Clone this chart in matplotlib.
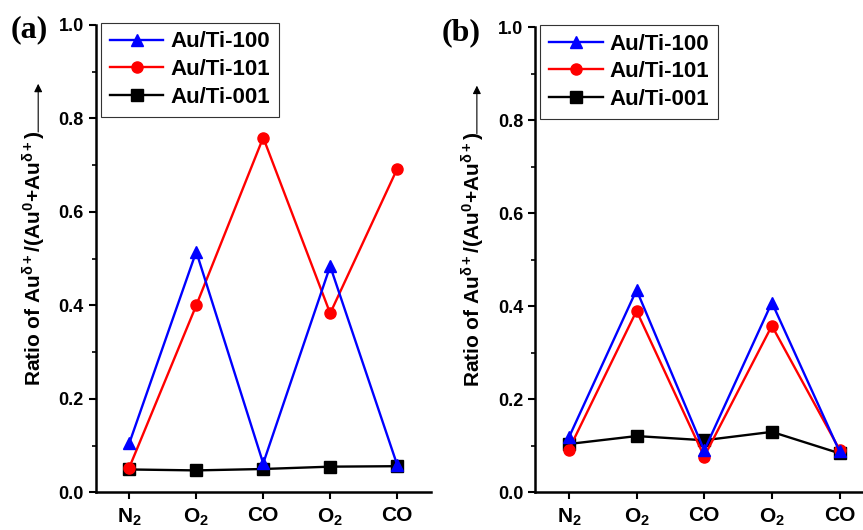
import matplotlib
matplotlib.use("Agg")
import matplotlib.pyplot as plt

plt.rcParams["font.family"] = ["Liberation Sans", "DejaVu Sans"]
plt.rcParams["font.weight"] = "bold"
plt.rcParams["axes.labelweight"] = "bold"
plt.rcParams["mathtext.fontset"] = "custom"
plt.rcParams["mathtext.rm"] = "Liberation Sans:bold"
plt.rcParams["mathtext.it"] = "Liberation Sans:bold"
plt.rcParams["mathtext.bf"] = "Liberation Sans:bold"
plt.rcParams["mathtext.default"] = "bf"

# gas sequence on the x axis
gases = ["N$_2$", "O$_2$", "CO", "O$_2$", "CO"]

# panel (a)
a_ti100 = [0.105, 0.515, 0.062, 0.484, 0.059]
a_ti101 = [0.053, 0.400, 0.759, 0.383, 0.692]
a_ti001 = [0.049, 0.047, 0.050, 0.055, 0.056]

# panel (b)
b_ti100 = [0.118, 0.435, 0.090, 0.408, 0.088]
b_ti101 = [0.092, 0.390, 0.077, 0.358, 0.092]
b_ti001 = [0.104, 0.121, 0.112, 0.130, 0.084]

series_names = ["Au/Ti-100", "Au/Ti-101", "Au/Ti-001"]
styles = [("#0000ff", "^"), ("#ff0000", "o"), ("#000000", "s")]

ylabel = r"Ratio of Au$^{\delta+}$/(Au$^{0}$+Au$^{\delta+}$)"


def draw_panel(ax, values):
    x = list(range(len(gases)))
    handles = []
    for vals, (color, marker), name, z in zip(values, styles, series_names, [4, 3, 2]):
        (h,) = ax.plot(x, vals, color=color, marker=marker, markersize=8,
                       lw=1.7, label=name, zorder=z)
        handles.append(h)
    ax.set_xlim(-0.5, 4.5)
    ax.set_ylim(0, 1.0)
    ax.set_xticks(x)
    ax.set_xticklabels(gases, fontsize=15)
    ax.set_yticks([0.0, 0.2, 0.4, 0.6, 0.8, 1.0])
    ax.set_yticklabels(["0.0", "0.2", "0.4", "0.6", "0.8", "1.0"], fontsize=13)
    ax.set_yticks([0.1, 0.3, 0.5, 0.7, 0.9], minor=True)
    ax.tick_params(axis="both", which="major", direction="out", length=5, width=1.5)
    ax.tick_params(axis="y", which="minor", direction="out", length=3, width=1.2)
    ax.tick_params(axis="x", pad=5)
    for side in ["top", "right"]:
        ax.spines[side].set_visible(False)
    for side in ["left", "bottom"]:
        ax.spines[side].set_linewidth(1.8)
    ax.set_ylabel(ylabel, fontsize=15, fontweight="bold", labelpad=8)
    ax.annotate("", xy=(-0.172, 0.88), xytext=(-0.172, 0.765),
                xycoords="axes fraction",
                arrowprops=dict(arrowstyle="-|>", lw=0.8, color="k",
                                mutation_scale=12),
                annotation_clip=False)
    leg = ax.legend(handles=handles, loc="upper left",
                    bbox_to_anchor=(0.016, 1.005), fontsize=16,
                    fancybox=False, framealpha=1, edgecolor="#333333",
                    handlelength=2.4, labelspacing=0.3, borderpad=0.4,
                    handletextpad=0.3, borderaxespad=0)
    leg.get_frame().set_linewidth(0.8)
    leg.set_zorder(10)


fig = plt.figure(figsize=(8.63, 5.30), dpi=100)
ax_a = fig.add_axes([0.111, 0.071, 0.388, 0.882])
ax_b = fig.add_axes([0.620, 0.071, 0.392, 0.878])

draw_panel(ax_a, [a_ti100, a_ti101, a_ti001])
draw_panel(ax_b, [b_ti100, b_ti101, b_ti001])

fig.text(0.012, 0.93, "(a)", fontsize=23, fontweight="bold",
         family=["Liberation Serif", "DejaVu Serif"])
fig.text(0.512, 0.925, "(b)", fontsize=23, fontweight="bold",
         family=["Liberation Serif", "DejaVu Serif"])

fig.savefig("out.png", dpi=100)
